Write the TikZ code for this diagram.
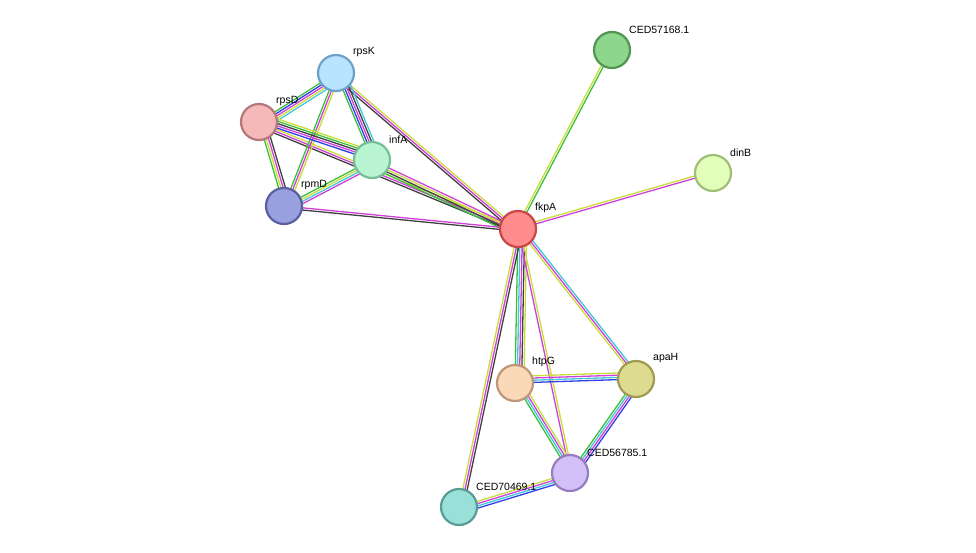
\documentclass[tikz,border=0pt]{standalone}
\usepackage{fontspec}
\setmainfont{Liberation Sans}
\usetikzlibrary{calc}
\definecolor{cgreen}{HTML}{3CC03C}
\definecolor{cyellow}{HTML}{C8DC3C}
\definecolor{cmag}{HTML}{D040D8}
\definecolor{cblue}{HTML}{3040E8}
\definecolor{ccyan}{HTML}{40C8D8}
\definecolor{cblack}{HTML}{404040}
\tikzset{
    prot/.style={ circle, minimum size=36pt, inner sep=0pt, line width=2.2pt },
    lab/.style={ anchor=south west, inner sep=1pt, font=\fontsize{10.5}{12}\selectfont },
    link/.style={ line width=1.3pt }
}
\newcommand{\linkedge}[3]{%
  \foreach \c [count=\i] in {#3} {
    \pgfmathsetmacro{\off}{(\i-1)*2.2}
    \draw[link, \c] ($(#1)!\off pt!90:(#2)$) -- ($(#2)!\off pt!-90:(#1)$);
  }
}
\begin{document}
\begin{tikzpicture}[x=1pt,y=-1pt]
    \useasboundingbox (0,0) rectangle (976,553);
    \coordinate (fkpA) at (518,229);
    \coordinate (ced57) at (612,50);
    \coordinate (dinB) at (713,173);
    \coordinate (rpsK) at (336,73);
    \coordinate (rpsD) at (259,122);
    \coordinate (infA) at (372,160);
    \coordinate (rpmD) at (284,206);
    \coordinate (htpG) at (515,383);
    \coordinate (apaH) at (636,379);
    \coordinate (ced56) at (570,473);
    \coordinate (ced70) at (459,507);

    % edges
    \linkedge{fkpA}{ced57}{cgreen,cyellow}
    \linkedge{fkpA}{dinB}{cmag,cyellow}
    \linkedge{fkpA}{rpsK}{cyellow,cmag,cblack}
    \linkedge{fkpA}{rpsD}{cyellow,cmag,cblack}
    \linkedge{fkpA}{infA}{cmag,cyellow,cblack,cgreen}
    \linkedge{fkpA}{rpmD}{cmag,cblack}
    \linkedge{fkpA}{htpG}{cgreen,ccyan,cmag,cblack,cyellow}
    \linkedge{fkpA}{apaH}{cyellow,cmag,ccyan}
    \linkedge{fkpA}{ced56}{cmag,cyellow}
    \linkedge{fkpA}{ced70}{cyellow,cmag,cblack}
    \linkedge{htpG}{apaH}{cblue,ccyan,cmag,cyellow}
    \linkedge{htpG}{ced56}{cgreen,ccyan,cmag,cyellow}
    \linkedge{apaH}{ced56}{cgreen,ccyan,cmag,cblue}
    \linkedge{ced56}{ced70}{cyellow,cmag,ccyan,cblue}
    \linkedge{rpsK}{rpsD}{cgreen,cblue,cmag,cyellow,ccyan}
    \linkedge{rpsK}{infA}{cgreen,cblue,cmag,cblack,ccyan}
    \linkedge{rpsK}{rpmD}{cgreen,cmag,cyellow}
    \linkedge{rpsD}{infA}{cblue,cmag,cblack,cgreen,cyellow}
    \linkedge{rpsD}{rpmD}{cgreen,cyellow,cmag,cblack}
    \linkedge{infA}{rpmD}{cgreen,cyellow,ccyan,cmag}

    % proteins
    \node[prot, fill={rgb,255:red,255;green,140;blue,140}, draw={rgb,255:red,200;green,70;blue,70}] (nfkpA) at (fkpA) {};
    \node[prot, fill={rgb,255:red,140;green,215;blue,140}, draw={rgb,255:red,80;green,150;blue,80}] (nced57) at (ced57) {};
    \node[prot, fill={rgb,255:red,225;green,255;blue,185}, draw={rgb,255:red,160;green,190;blue,120}] (ndinB) at (dinB) {};
    \node[prot, fill={rgb,255:red,185;green,228;blue,255}, draw={rgb,255:red,110;green,160;blue,200}] (nrpsK) at (rpsK) {};
    \node[prot, fill={rgb,255:red,245;green,185;blue,185}, draw={rgb,255:red,180;green,120;blue,120}] (nrpsD) at (rpsD) {};
    \node[prot, fill={rgb,255:red,185;green,245;blue,210}, draw={rgb,255:red,120;green,190;blue,150}] (ninfA) at (infA) {};
    \node[prot, fill={rgb,255:red,152;green,160;blue,224}, draw={rgb,255:red,90;green,95;blue,160}] (nrpmD) at (rpmD) {};
    \node[prot, fill={rgb,255:red,250;green,216;blue,184}, draw={rgb,255:red,190;green,150;blue,120}] (nhtpG) at (htpG) {};
    \node[prot, fill={rgb,255:red,221;green,219;blue,144}, draw={rgb,255:red,160;green,155;blue,80}] (napaH) at (apaH) {};
    \node[prot, fill={rgb,255:red,212;green,192;blue,248}, draw={rgb,255:red,150;green,125;blue,190}] (nced56) at (ced56) {};
    \node[prot, fill={rgb,255:red,152;green,224;blue,216}, draw={rgb,255:red,90;green,155;blue,150}] (nced70) at (ced70) {};

    % labels
    \node[lab] (tfkpA) at (534,214) {fkpA};
    \node[lab] (tced57) at (628,35) {CED57168.1};
    \node[lab] (tdinB) at (729,158) {dinB};
    \node[lab] (trpsK) at (352,58) {rpsK};
    \node[lab] (trpsD) at (275,107) {rpsD};
    \node[lab] (tinfA) at (388,145) {infA};
    \node[lab] (trpmD) at (300,191) {rpmD};
    \node[lab] (thtpG) at (531,368) {htpG};
    \node[lab] (tapaH) at (652,364) {apaH};
    \node[lab] (tced56) at (586,458) {CED56785.1};
    \node[lab] (tced70) at (475,492) {CED70469.1};
\end{tikzpicture}
\end{document}
